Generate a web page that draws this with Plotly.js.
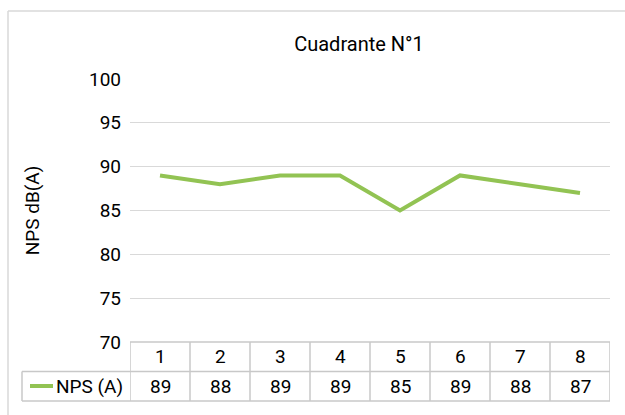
<!DOCTYPE html>
<html>
<head>
<meta charset="utf-8">
<script src="https://cdn.plot.ly/plotly-3.0.1.min.js"></script>
<style>html,body{margin:0;padding:0;background:#fff}#chart{width:625px;height:415px}</style>
</head>
<body>
<div id="chart"></div>
<script>
const categories = ['1', '2', '3', '4', '5', '6', '7', '8'];
const seriesName = 'NPS (A)';
const values = [89, 88, 89, 89, 85, 89, 88, 87];
const yTicks = [70, 75, 80, 85, 90, 95, 100];
const chartTitle = 'Cuadrante N°1';
const yTitle = 'NPS dB(A)';

const FONT = 'Roboto, "Open Sans", sans-serif';
const FS = 19;
const GREEN = '#92c353';
const GRID = '#d9d9d9';
const TBL = '#c8c8c8';

const W = 625, H = 415;
const L = 130, R = 15, T = 79, B = 73;
const pw = W - L - R, ph = H - T - B;
const px = x => (x - L) / pw;          // pixel x -> paper x
const py = y => (H - B - y) / ph;      // pixel y -> paper y

const rowTop = 342, rowMid = 371.5, rowBot = 401;
const tableLeft = 22;

const shapes = [];
// outer chart border (top & left)
shapes.push({type:'line', xref:'paper', yref:'paper', x0:px(8), x1:px(W), y0:py(11), y1:py(11), line:{color:'#d9d9d9', width:1.5}});
shapes.push({type:'line', xref:'paper', yref:'paper', x0:px(8), x1:px(8), y0:py(11), y1:py(H+5), line:{color:'#d9d9d9', width:1.5}});
// table horizontal lines
shapes.push({type:'line', xref:'paper', yref:'paper', x0:0, x1:1, y0:py(rowTop), y1:py(rowTop), line:{color:TBL, width:1.5}});
shapes.push({type:'line', xref:'paper', yref:'paper', x0:px(tableLeft), x1:1, y0:py(rowMid), y1:py(rowMid), line:{color:TBL, width:1.5}});
shapes.push({type:'line', xref:'paper', yref:'paper', x0:px(tableLeft), x1:1, y0:py(rowBot), y1:py(rowBot), line:{color:TBL, width:1.5}});
// table vertical lines
for (let i = 0; i <= categories.length; i++) {
  shapes.push({type:'line', xref:'x', yref:'paper', x0:i-0.5, x1:i-0.5, y0:py(rowTop), y1:py(rowBot), line:{color:TBL, width:1.5}});
}
shapes.push({type:'line', xref:'paper', yref:'paper', x0:px(tableLeft), x1:px(tableLeft), y0:py(rowMid), y1:py(rowBot), line:{color:TBL, width:1.5}});
// legend key
shapes.push({type:'line', xref:'paper', yref:'paper', x0:px(30), x1:px(53), y0:py(386), y1:py(386), line:{color:GREEN, width:4}});

const annotations = [];
categories.forEach((c, i) => {
  annotations.push({xref:'x', yref:'paper', x:i, y:py((rowTop+rowMid)/2), text:c, showarrow:false, xanchor:'center', yanchor:'middle', font:{family:FONT, size:FS, color:'#000'}});
  annotations.push({xref:'x', yref:'paper', x:i, y:py((rowMid+rowBot)/2), text:String(values[i]), showarrow:false, xanchor:'center', yanchor:'middle', font:{family:FONT, size:FS, color:'#000'}});
});
annotations.push({xref:'paper', yref:'paper', x:px(54), y:py((rowMid+rowBot)/2), text:seriesName, showarrow:false, xanchor:'left', yanchor:'middle', font:{family:FONT, size:FS, color:'#000'}});

const trace = {
  type:'scatter', mode:'lines', x:categories, y:values, name:seriesName,
  line:{color:GREEN, width:4}, showlegend:false, hoverinfo:'x+y'
};

const layout = {
  width:W, height:H,
  margin:{l:L, r:R, t:T, b:B, pad:0},
  paper_bgcolor:'#fff', plot_bgcolor:'#fff',
  font:{family:FONT, size:FS, color:'#000'},
  title:{text:chartTitle, font:{family:FONT, size:20, color:'#000'}, xref:'paper', x:px(359), xanchor:'center', yref:'container', y:1-44/H, yanchor:'middle'},
  xaxis:{type:'category', categoryarray:categories, range:[-0.5, categories.length-0.5], showticklabels:false, showgrid:false, zeroline:false, showline:false, ticks:'', fixedrange:true},
  yaxis:{range:[70,100], tickvals:yTicks, ticktext:yTicks.map(String), showgrid:true, gridcolor:GRID, gridwidth:1.3, zeroline:false, showline:false, ticks:'', ticklabelstandoff:8, automargin:false,
    title:{text:yTitle, font:{family:FONT, size:FS, color:'#000'}, standoff:44}, fixedrange:true},
  shapes:shapes, annotations:annotations
};

Plotly.newPlot('chart', [trace], layout, {displayModeBar:false, staticPlot:true});
</script>
</body>
</html>
